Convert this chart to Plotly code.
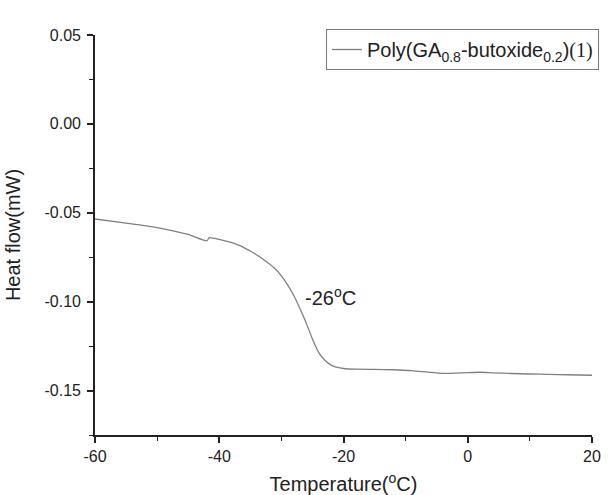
import plotly.graph_objects as go

temperature = [-60, -55, -50, -45, -42, -41.6, -40, -37, -35, -33, -31, -30, -29, -28, -27, -26,
               -25, -24, -23, -22, -21, -20, -18, -15, -12, -9, -6, -4, -2, 0, 2, 4, 7, 10, 13, 16, 20]
heat_flow = [-0.0535, -0.0558, -0.0583, -0.0622, -0.0658, -0.0640, -0.0650, -0.0680, -0.0715, -0.0760,
             -0.0815, -0.0855, -0.0905, -0.0965, -0.1040, -0.1120, -0.1210, -0.1285, -0.1330, -0.1357,
             -0.1370, -0.1376, -0.1380, -0.1381, -0.1383, -0.1388, -0.1398, -0.1403, -0.1402, -0.1399,
             -0.1397, -0.1400, -0.1404, -0.1407, -0.1409, -0.1411, -0.1414]
series_name = ("Poly(GA<sub>0.8</sub>-butoxide<sub>0.2</sub>)"
               "<span style='font-family:Liberation Serif'>(1)</span>")
x_ticks = [-60, -40, -20, 0, 20]
x_tick_labels = ["-60", "-40", "-20", "0", "20"]
y_ticks = [0.05, 0.00, -0.05, -0.10, -0.15]
y_tick_labels = ["0.05", "0.00", "-0.05", "-0.10", "-0.15"]

font_family = "Liberation Sans, Arial, sans-serif"

fig = go.Figure()
fig.add_trace(go.Scatter(
    x=temperature, y=heat_flow, mode="lines", name=series_name,
    line=dict(color="#808080", width=1.3, shape="spline", smoothing=0.6),
    showlegend=True,
))

fig.add_annotation(
    x=-26, y=-0.10, xref="x", yref="y",
    text="-26<sup>o</sup>C", showarrow=False,
    xanchor="left", yanchor="middle", xshift=-3, yshift=5,
    font=dict(family=font_family, size=20, color="#222"),
)

axis_common = dict(
    showline=True, linecolor="#222", linewidth=1.7,
    ticks="outside", ticklen=6, tickwidth=1.5, tickcolor="#222",
    showgrid=False, zeroline=False, mirror=False, automargin=False,
    tickfont=dict(family=font_family, size=16, color="#222"),
)

fig.update_xaxes(
    range=[-60, 20], tickvals=x_ticks, ticktext=x_tick_labels, ticklabelstandoff=0,
    minor=dict(dtick=10, tick0=-60, ticks="outside", ticklen=4, tickwidth=1.3, tickcolor="#222"),
    title=dict(text="Temperature(<sup>o</sup>C)", standoff=20,
               font=dict(family=font_family, size=20, color="#222")),
    **axis_common,
)
fig.update_yaxes(
    range=[-0.175, 0.05], tickvals=y_ticks, ticktext=y_tick_labels, ticklabelstandoff=3,
    minor=dict(dtick=0.025, tick0=0, ticks="outside", ticklen=4, tickwidth=1.3, tickcolor="#222"),
    title=dict(text="Heat flow(mW)", standoff=18,
               font=dict(family=font_family, size=20, color="#222")),
    **axis_common,
)

fig.update_layout(
    width=611, height=495,
    margin=dict(l=95, r=17, t=35, b=60),
    plot_bgcolor="white", paper_bgcolor="white",
    showlegend=True,
    legend=dict(
        x=1.014, y=1.015, xanchor="right", yanchor="top",
        bordercolor="#777", borderwidth=1, bgcolor="white",
        font=dict(family=font_family, size=20, color="#222"),
        itemwidth=30, tracegroupgap=0,
    ),
)

fig.write_html("out.html")
